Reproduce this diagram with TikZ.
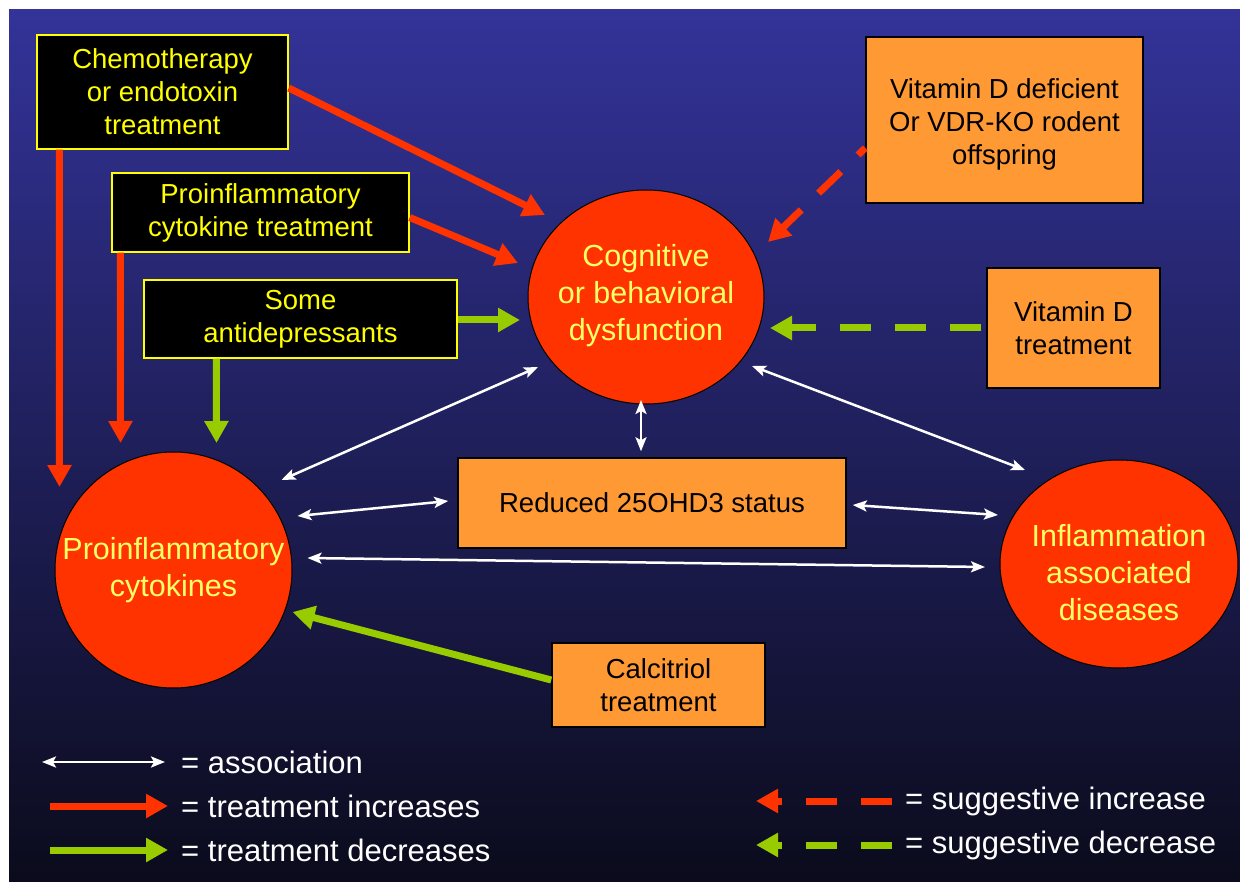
\documentclass[tikz,border=0pt]{standalone}
\usepackage{fontspec}
\setmainfont{Liberation Sans}
\usetikzlibrary{shapes.geometric,arrows.meta,calc,positioning}
\definecolor{bgtop}{RGB}{51,51,153}
\definecolor{bgmid}{RGB}{40,40,118}
\definecolor{bgbot}{RGB}{11,11,28}
\definecolor{ellred}{RGB}{255,51,0}
\definecolor{boxorange}{RGB}{255,153,51}
\definecolor{arrgreen}{RGB}{153,204,0}
\definecolor{boxyellow}{RGB}{255,255,0}
\definecolor{ellyellow}{RGB}{255,255,102}
\tikzset{
  blackbox/.style={draw=boxyellow, fill=black, text=boxyellow, line width=1.5pt, align=center, inner sep=0pt, font=\fontsize{27.5}{33}\selectfont},
  orangebox/.style={draw=black, fill=boxorange, text=black, line width=1.5pt, align=center, inner sep=0pt, font=\fontsize{27.5}{33}\selectfont},
  boxtext/.style={text=black, align=center, inner sep=0pt, font=\fontsize{27.5}{33}\selectfont},
  dysnode/.style={ellipse, draw=black, fill=ellred, line width=1pt, inner sep=0pt},
  dystext/.style={text=ellyellow, align=center, inner sep=0pt, font=\fontsize{30.5}{37}\selectfont},
  bigtip/.style={-{Triangle[width=23pt,length=22pt]}},
  incarrow/.style={draw=ellred, line width=7pt, bigtip},
  decarrow/.style={draw=arrgreen, line width=7pt, bigtip},
  sugdash/.style={dash pattern=on 31pt off 24pt, dash phase=#1},
  sugdash/.default=0pt,
  assoc/.style={draw=white, line width=2.5pt, {Stealth[width=11pt,length=14pt,inset=3pt]}-{Stealth[width=11pt,length=14pt,inset=3pt]}},
  legtext/.style={anchor=west, text=white, inner sep=0pt, font=\fontsize{31}{37}\selectfont},
}
\begin{document}
\begin{tikzpicture}[x=1pt,y=-1pt]
\fill[white] (0,0) rectangle (1240,882);
\shade[top color=bgtop, middle color=bgmid, bottom color=bgbot] (9,10) rectangle (1240,882);
\useasboundingbox (0,0) rectangle (1240,882);

\node[blackbox, minimum width=251pt, minimum height=114pt] (chem) at (162.5,92) {Chemotherapy\\or endotoxin\\treatment};
\node[blackbox, minimum width=297pt, minimum height=79pt] (cyttreat) at (260.5,212.5) {Proinflammatory\\cytokine treatment};
\node[blackbox, minimum width=313pt, minimum height=78pt] (antidep) at (300.5,319) {Some\\antidepressants};
\node[orangebox, minimum width=277pt, minimum height=166pt] (vitdef) at (1004.5,120) {};
\node[boxtext] (vitdeftext) at (1004.5,124) {Vitamin D deficient\\Or VDR-KO rodent\\offspring};
\node[orangebox, minimum width=173pt, minimum height=120pt] (vitdtreat) at (1073.5,328) {Vitamin D\\treatment};
\node[orangebox, minimum width=388pt, minimum height=90pt] (reduced) at (652,503) {Reduced 25OHD3 status};
\node[orangebox, minimum width=213pt, minimum height=84pt] (calcitriol) at (658.5,685) {Calcitriol\\treatment};

\node[dysnode, minimum width=236pt, minimum height=214pt] (cog) at (646,297) {};
\node[dystext] (cogtext) at (646,296) {Cognitive\\or behavioral\\dysfunction};
\node[dysnode, minimum width=237pt, minimum height=236pt] (pcyt) at (173.5,570) {};
\node[dystext] (pcyttext) at (173.5,570) {Proinflammatory\\cytokines};
\node[dysnode, minimum width=238pt, minimum height=208pt] (infl) at (1119,564) {};
\node[dystext] (infltext) at (1119,573) {Inflammation\\associated\\diseases};

\draw[incarrow] ($(chem.east)+(0,-4)$) -- ($(cog)+(-101,-82)$);
\draw[incarrow] ($(cyttreat.east)+(0,5)$) -- ($(cog)+(-128,-34)$);
\draw[incarrow] ($(chem.south west)+(23,0)$) -- ($(pcyt)+(-114,-83)$);
\draw[incarrow] ($(cyttreat.south west)+(9,0)$) -- ($(pcyt)+(-53,-127)$);
\draw[decarrow] ($(antidep.east)+(0,1)$) -- ($(cog)+(-126,23)$);
\draw[decarrow] ($(antidep.south west)+(73,0)$) -- ($(pcyt)+(43,-127)$);
\draw[decarrow] ($(calcitriol.west)+(0,-5)$) -- ($(pcyt)+(119,42)$);
\draw[incarrow, sugdash=21pt] ($(vitdef.west)+(0,28)$) -- ($(cog)+(122,-55)$);
\draw[decarrow, sugdash=50pt] (vitdtreat.west) -- ($(cog)+(124,31)$);

\draw[assoc] ($(pcyt)+(108,-90)$) -- ($(cog)+(-108,70)$);
\draw[assoc] ($(cog)+(-5,103)$) -- ($(reduced.north)+(-11,-6)$);
\draw[assoc] ($(cog)+(106,69)$) -- ($(infl)+(-94,-94)$);
\draw[assoc] ($(pcyt)+(124,-54)$) -- ($(reduced.west)+(-9,-2)$);
\draw[assoc] ($(reduced.east)+(6,2)$) -- ($(infl)+(-121,-49)$);
\draw[assoc] ($(pcyt)+(134,-12)$) -- ($(infl)+(-134,3)$);

\node[legtext] (lgassoc) at (181,762) {= association};
\node[legtext] (lginc) at (181,806) {= treatment increases};
\node[legtext] (lgdec) at (181,850) {= treatment decreases};
\node[legtext] (lgsuginc) at (905,801) {= suggestive increase};
\node[legtext] (lgsugdec) at (905,845) {= suggestive decrease};
\coordinate (lgassocstart) at (42,762);
\coordinate (lgincstart) at (50,806);
\coordinate (lgdecstart) at (50,850);
\coordinate (lgsugincend) at (756,801);
\coordinate (lgsugdecend) at (756,845);
\draw[assoc, shorten >=16pt] (lgassocstart) -- (lgassoc.west);
\draw[incarrow, shorten >=13pt] (lgincstart) -- (lginc.west);
\draw[decarrow, shorten >=13pt] (lgdecstart) -- (lgdec.west);
\draw[incarrow, sugdash, shorten <=13pt] (lgsuginc.west) -- (lgsugincend);
\draw[decarrow, sugdash, shorten <=13pt] (lgsugdec.west) -- (lgsugdecend);
\end{tikzpicture}
\end{document}
